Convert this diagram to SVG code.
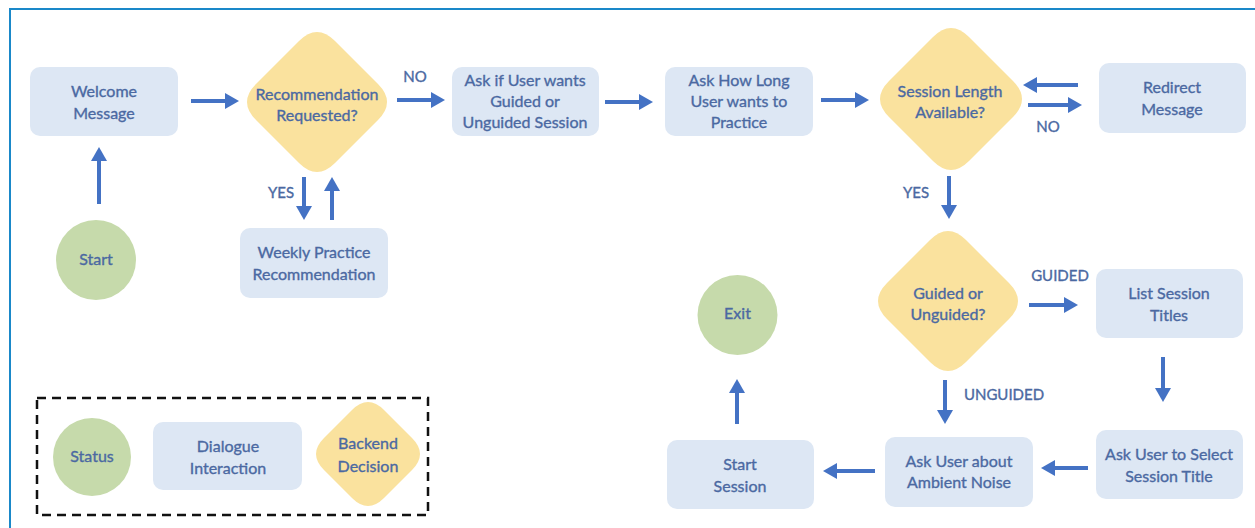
<svg xmlns="http://www.w3.org/2000/svg" width="1255" height="528" viewBox="0 0 1255 528">
  <style>
    .box { fill: #dde7f4; }
    .dec { fill: #fae29e; }
    .stat { fill: #c6daab; }
    text { font-family: Lato, "Open Sans", "Liberation Sans", sans-serif; font-size: 16px; fill: #4b69a2; stroke: #4b69a2; stroke-width: 0.35; text-anchor: middle; }
    .lbl { font-size: 15px; }
    .conn line { stroke: #4472c4; stroke-width: 4; marker-end: url(#head); }
  </style>
  <defs>
    <marker id="head" viewBox="0 0 14 16" refX="1" refY="8" markerWidth="14" markerHeight="16" markerUnits="userSpaceOnUse" orient="auto">
      <path d="M0,0 L14,8 L0,16 Z" fill="#4472c4"/>
    </marker>
  </defs>

  <rect width="1255" height="528" fill="#ffffff"/>
  <!-- page frame -->
  <path d="M10,528 V9 H1255" fill="none" stroke="#1a88c9" stroke-width="2"/>

  <!-- connectors -->
  <g id="connectors" class="conn">
    <line x1="99" y1="204" x2="99" y2="160"/>
    <line x1="191" y1="101" x2="226" y2="101"/>
    <line x1="304" y1="177" x2="304" y2="207"/>
    <line x1="332" y1="220" x2="332" y2="190"/>
    <line x1="397" y1="100" x2="432" y2="100"/>
    <line x1="605" y1="102" x2="640" y2="102"/>
    <line x1="821" y1="100" x2="856" y2="100"/>
    <line x1="1078" y1="85" x2="1036" y2="85"/>
    <line x1="1028" y1="105" x2="1069" y2="105"/>
    <line x1="949" y1="176" x2="949" y2="206"/>
    <line x1="1029" y1="305" x2="1065" y2="305"/>
    <line x1="1163" y1="357" x2="1163" y2="389"/>
    <line x1="1088" y1="468" x2="1054" y2="468"/>
    <line x1="945" y1="380" x2="945" y2="411"/>
    <line x1="875" y1="471" x2="836" y2="471"/>
    <line x1="737" y1="424" x2="737" y2="392"/>
  </g>

  <!-- edge labels -->
  <g id="labels">
    <text class="lbl" x="281" y="198">YES</text>
    <text class="lbl" x="415" y="82">NO</text>
    <text class="lbl" x="1048" y="132">NO</text>
    <text class="lbl" x="916" y="198">YES</text>
    <text class="lbl" x="1060" y="281">GUIDED</text>
    <text class="lbl" x="1004" y="400">UNGUIDED</text>
  </g>

  <g id="start">
    <circle class="stat" cx="96" cy="260" r="40"/>
    <text x="96" y="265">Start</text>
  </g>

  <g id="welcome">
    <rect class="box" x="30" y="67" width="148" height="69" rx="10"/>
    <text x="104" y="97">Welcome</text>
    <text x="104" y="119">Message</text>
  </g>

  <g id="recommendation-requested">
    <path class="dec" d="M299,41 Q317,23 335,41 L378,84 Q396,102 378,120 L335,163 Q317,181 299,163 L256,120 Q238,102 256,84 Z"/>
    <text x="317" y="100">Recommendation</text>
    <text x="317" y="121">Requested?</text>
  </g>

  <g id="weekly-practice">
    <rect class="box" x="240" y="228" width="148" height="70" rx="10"/>
    <text x="314" y="258">Weekly Practice</text>
    <text x="314" y="280">Recommendation</text>
  </g>

  <g id="ask-guided">
    <rect class="box" x="452" y="67" width="147" height="69" rx="10"/>
    <text x="525" y="85.5">Ask if User wants</text>
    <text x="525" y="106.5">Guided or</text>
    <text x="525" y="127.5">Unguided Session</text>
  </g>

  <g id="ask-length">
    <rect class="box" x="665" y="67" width="148" height="69" rx="10"/>
    <text x="739" y="86">Ask How Long</text>
    <text x="739" y="107">User wants to</text>
    <text x="739" y="128">Practice</text>
  </g>

  <g id="length-available">
    <path class="dec" d="M933,37 Q951,19 969,37 L1013,81 Q1031,99 1013,117 L969,161 Q951,179 933,161 L889,117 Q871,99 889,81 Z"/>
    <text x="950" y="97">Session Length</text>
    <text x="950" y="118">Available?</text>
  </g>

  <g id="redirect">
    <rect class="box" x="1099" y="63" width="147" height="70" rx="10"/>
    <text x="1172" y="93">Redirect</text>
    <text x="1172" y="115">Message</text>
  </g>

  <g id="guided-or-unguided">
    <path class="dec" d="M930,240 Q948,222 966,240 L1009,283 Q1027,301 1009,319 L966,362 Q948,380 930,362 L887,319 Q869,301 887,283 Z"/>
    <text x="948" y="299">Guided or</text>
    <text x="948" y="320">Unguided?</text>
  </g>

  <g id="list-titles">
    <rect class="box" x="1096" y="269" width="147" height="69" rx="10"/>
    <text x="1169" y="299">List Session</text>
    <text x="1169" y="321">Titles</text>
  </g>

  <g id="select-title">
    <rect class="box" x="1096" y="430" width="147" height="69" rx="10"/>
    <text x="1169" y="460">Ask User to Select</text>
    <text x="1169" y="482">Session Title</text>
  </g>

  <g id="ambient-noise">
    <rect class="box" x="885" y="437" width="148" height="70" rx="10"/>
    <text x="959" y="467">Ask User about</text>
    <text x="959" y="488">Ambient Noise</text>
  </g>

  <g id="start-session">
    <rect class="box" x="667" y="440" width="147" height="69" rx="10"/>
    <text x="740" y="470">Start</text>
    <text x="740" y="492">Session</text>
  </g>

  <g id="exit">
    <circle class="stat" cx="737.5" cy="315" r="40"/>
    <text x="737.5" y="319">Exit</text>
  </g>

  <!-- legend -->
  <g id="legend">
    <rect x="37" y="398" width="391" height="117" fill="none" stroke="#111111" stroke-width="2.5" stroke-dasharray="9 6"/>
    <circle class="stat" cx="92" cy="457" r="39"/>
    <text x="92" y="462">Status</text>
    <rect class="box" x="153" y="422" width="149" height="68" rx="10"/>
    <text x="228" y="452">Dialogue</text>
    <text x="228" y="474">Interaction</text>
    <path class="dec" d="M352,410 Q368,394 384,410 L412,438 Q428,454 412,470 L384,498 Q368,514 352,498 L324,470 Q308,454 324,438 Z"/>
    <text x="368" y="449">Backend</text>
    <text x="368" y="472">Decision</text>
  </g>
</svg>
